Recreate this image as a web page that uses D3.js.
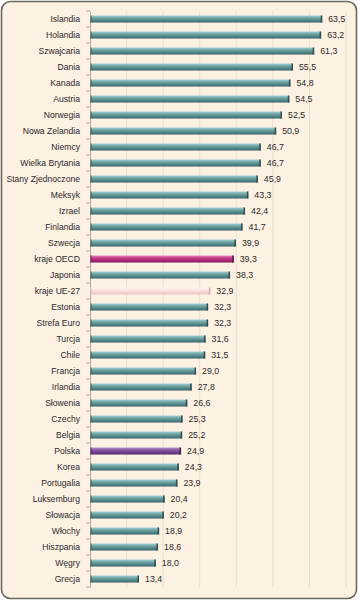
<!DOCTYPE html>
<html><head><meta charset="utf-8">
<script src="https://cdn.jsdelivr.net/npm/d3@7"></script>
<style>html,body{margin:0;padding:0;background:#fff;}svg{display:block;}</style>
</head><body>
<script>
const categories = ["Islandia","Holandia","Szwajcaria","Dania","Kanada","Austria","Norwegia","Nowa Zelandia","Niemcy","Wielka Brytania","Stany Zjednoczone","Meksyk","Izrael","Finlandia","Szwecja","kraje OECD","Japonia","kraje UE-27","Estonia","Strefa Euro","Turcja","Chile","Francja","Irlandia","Słowenia","Czechy","Belgia","Polska","Korea","Portugalia","Luksemburg","Słowacja","Włochy","Hiszpania","Węgry","Grecja"];
const values = [63.5,63.2,61.3,55.5,54.8,54.5,52.5,50.9,46.7,46.7,45.9,43.3,42.4,41.7,39.9,39.3,38.3,32.9,32.3,32.3,31.6,31.5,29.0,27.8,26.6,25.3,25.2,24.9,24.3,23.9,20.4,20.2,18.9,18.6,18.0,13.4];
const highlight = {"kraje OECD":"oecd","kraje UE-27":"ue","Polska":"pl"};
const xTicks = [0,10,20,30,40,50,60,70];

const W = 358, H = 600;
const svg = d3.select("body").append("svg").attr("width", W).attr("height", H);
const defs = svg.append("defs");
function grad(id, stops){
  const g = defs.append("linearGradient").attr("id", id).attr("x1",0).attr("y1",0).attr("x2",0).attr("y2",1);
  stops.forEach(s => g.append("stop").attr("offset", s[0]).attr("stop-color", s[1]));
}
grad("gTeal", [[0,"#a9cfcf"],[0.35,"#6fa5a7"],[0.7,"#4f8587"],[1,"#3a6466"]]);
grad("gOecd", [[0,"#e58fc0"],[0.35,"#c83a8c"],[0.7,"#a82774"],[1,"#7d1b56"]]);
grad("gUe",   [[0,"#fff4f4"],[0.4,"#fbe2e2"],[1,"#eec2c2"]]);
grad("gPl",   [[0,"#b897c9"],[0.35,"#8a55a3"],[0.7,"#6f3f8b"],[1,"#522c69"]]);
const fills = {def:"url(#gTeal)", oecd:"url(#gOecd)", ue:"url(#gUe)", pl:"url(#gPl)"};
const caps = {def:"#2e4e50", oecd:"#5f1242", ue:"#d9a9a9", pl:"#3d1f50"};

// frame
svg.append("rect").attr("x",1.5).attr("y",1.5).attr("width",W-3).attr("height",H-3)
  .attr("rx",9).attr("fill","#fdf1e3").attr("stroke","#6f665a").attr("stroke-width",1.6);

const x = d3.scaleLinear().domain([0,70]).range([90,346]);
const y = d3.scaleBand().domain(categories).range([11,587]);

// gridlines
svg.append("g").selectAll("line").data(xTicks.slice(1)).join("line")
  .attr("x1", d=>x(d)).attr("x2", d=>x(d)).attr("y1", 11).attr("y2", 587)
  .attr("stroke","#eadfce").attr("stroke-width",1);

// axis
const ax = svg.append("g").attr("transform","translate(90,0)")
  .call(d3.axisLeft(y).tickSize(0).tickFormat(""));
ax.select(".domain").attr("stroke","#b3aa9e");
const bounds = d3.range(categories.length+1).map(i => 11 + i*y.step());
svg.append("g").selectAll("line").data(bounds).join("line")
  .attr("x1",86).attr("x2",90).attr("y1",d=>d).attr("y2",d=>d)
  .attr("stroke","#b3aa9e");

// labels
svg.append("g").selectAll("text").data(categories).join("text")
  .attr("x", 80).attr("y", d=>y(d)+y.bandwidth()/2).attr("dy","0.35em")
  .attr("text-anchor","end").attr("font-family","'Liberation Sans', Arial, sans-serif")
  .attr("font-size", 8.6).attr("fill","#2a2a2a").text(d=>d);

const bh = 7;
const data = categories.map((c,i)=>({c, v:values[i], k: highlight[c]||"def"}));
const bars = svg.append("g");
bars.selectAll("rect.b").data(data).join("rect").attr("class","b")
  .attr("x", x(0)+0.5).attr("y", d=>y(d.c)+y.bandwidth()/2-bh/2)
  .attr("width", d=>x(d.v)-x(0)-0.5).attr("height", bh)
  .attr("fill", d=>fills[d.k]);
bars.selectAll("rect.cap").data(data).join("rect").attr("class","cap")
  .attr("x", d=>x(d.v)-1.5).attr("y", d=>y(d.c)+y.bandwidth()/2-bh/2)
  .attr("width", 1.5).attr("height", bh).attr("fill", d=>caps[d.k]);
bars.selectAll("rect.lcap").data(data).join("rect").attr("class","lcap")
  .attr("x", x(0)+0.5).attr("y", d=>y(d.c)+y.bandwidth()/2-bh/2)
  .attr("width", 1.2).attr("height", bh).attr("fill", d=>caps[d.k]).attr("opacity",0.6);

const fmt = v => d3.format(".1f")(v).replace(".", ",");
svg.append("g").selectAll("text").data(data).join("text")
  .attr("x", d=>x(d.v)+6).attr("y", d=>y(d.c)+y.bandwidth()/2).attr("dy","0.35em")
  .attr("font-family","'Liberation Sans', Arial, sans-serif").attr("font-size",8.8)
  .attr("fill","#2a2a2a").text(d=>fmt(d.v));
</script>
</body></html>
